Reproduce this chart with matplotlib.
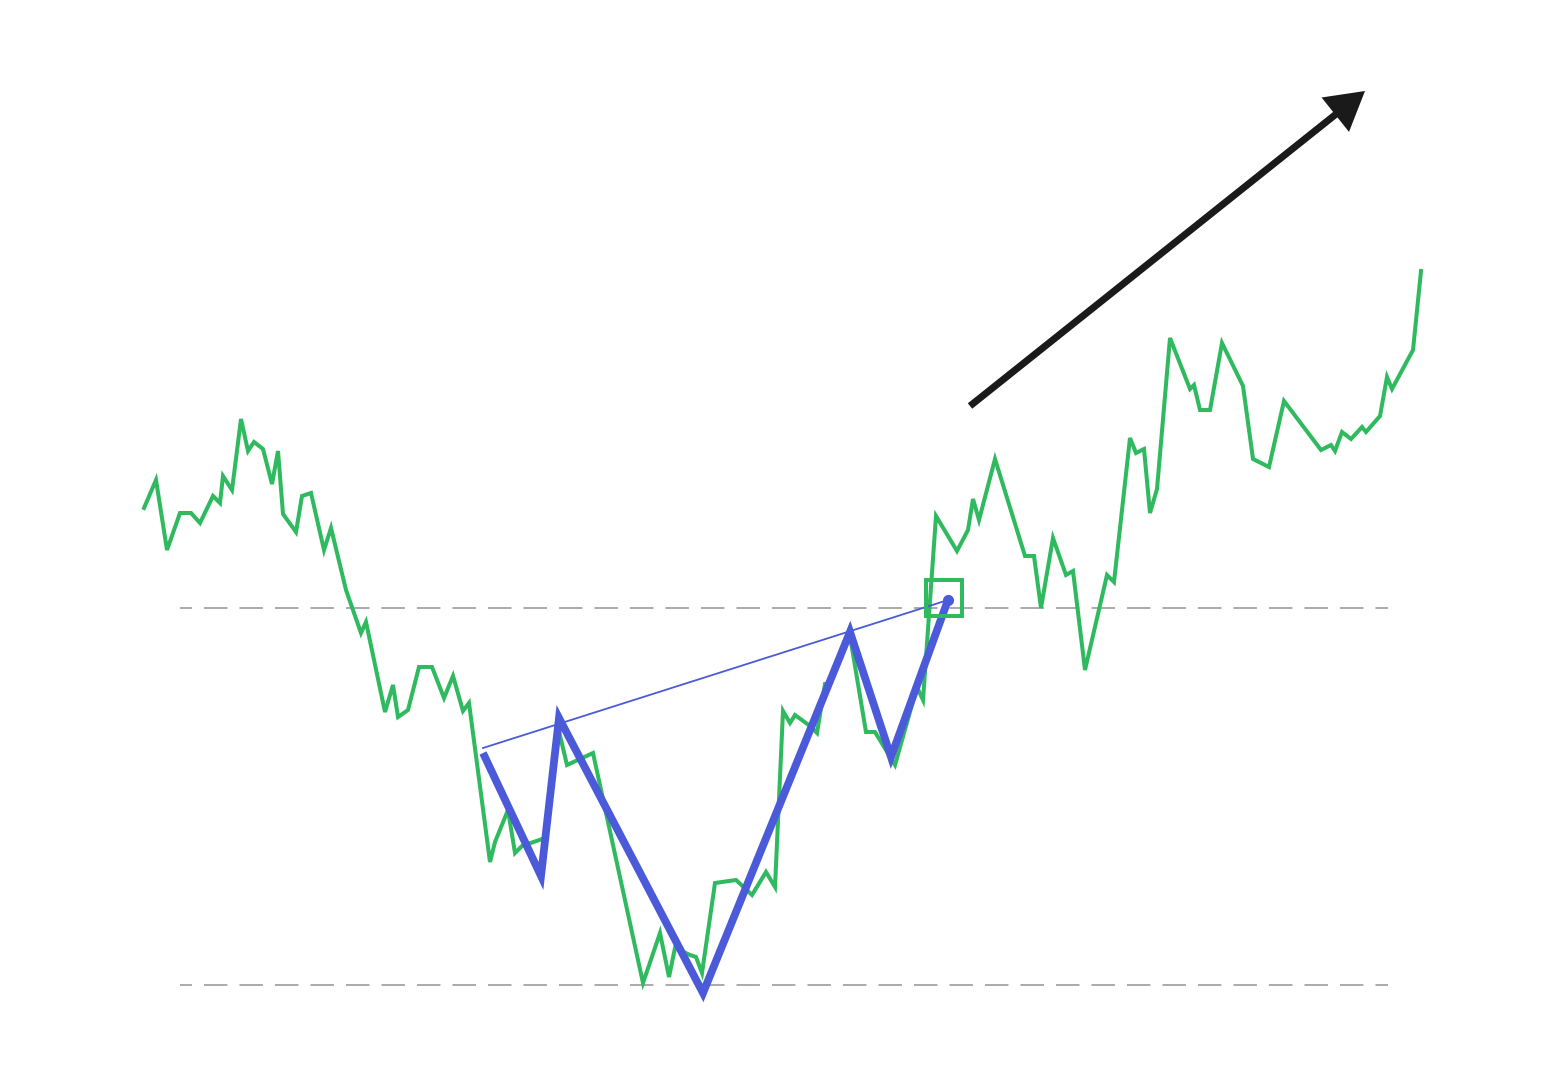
import matplotlib
matplotlib.use("Agg")
import matplotlib.pyplot as plt
from matplotlib.patches import FancyArrow, Rectangle

plt.rcParams["lines.scale_dashes"] = False

H = 1080
# price series (x position, level)
price_x = [144,156,167,180,191,200,213,220,223,232,241,248,254,263,272,278,283,296,302,311,
           324,331,346,361,366,385,393,398,408,419,432,444,453,463,469,490,495,508,515,522,545,
           557,567,593,643,660,669,675,690,696,702,715,736,752,766,775,783,790,795,810,817,
           825,828,849,866,875,895,917,923,936,957,968,973,979,995,1025,1034,1041,1053,1066,1073,
           1085,1107,1114,1130,1136,1144,1150,1157,1170,1190,1194,1200,1210,1222,1243,1253,1269,1284,1321,1331,
           1335,1342,1351,1362,1366,1380,1387,1392,1413,1421]
price_y = [508,480,550,513,513,523,496,503,476,490,419,451,442,449,484,451,514,532,496,493,
           550,528,590,633,622,712,685,717,710,667,667,698,676,711,703,862,842,810,853,846,838,
           723,765,753,983,933,977,948,955,957,973,883,880,895,872,887,711,723,715,726,733,
           684,684,630,732,732,765,687,700,516,551,530,499,520,459,556,556,608,538,575,571,
           670,575,582,438,453,449,513,489,338,389,385,410,410,343,386,459,467,401,450,445,
           451,432,439,427,432,416,377,389,350,271]
price = [H - v for v in price_y]

# inverse head & shoulders pattern
pat_x = [483, 541, 559, 703, 850, 891, 948]
pat_y = [753, 876, 718, 993, 632, 757, 600]
pat = [H - v for v in pat_y]

neck_x = [483, 948]
neck = [H - 748, H - 600]

support_level = H - 985
resist_level = H - 608
level_x = [180, 1388]

breakout_x, breakout = 944, H - 598
arrow_start = (970, H - 406)
arrow_end = (1365, H - 91)

GREEN = "#2fba5f"
BLUE = "#4b5ad8"
GRAY = "#aaaaaa"

fig = plt.figure(figsize=(15.68, 10.80), dpi=100)
ax = fig.add_axes([0, 0, 1, 1])
ax.set_xlim(0, 1568)
ax.set_ylim(0, H)
ax.axis("off")

for lvl in (resist_level, support_level):
    ax.plot(level_x, [lvl, lvl], color=GRAY, lw=1.4, zorder=1,
            linestyle=(8.3, (16.9, 8.66)))

ax.plot(price_x, price, color=GREEN, lw=2.9, solid_joinstyle="miter", zorder=2)

ax.plot(neck_x, neck, color=BLUE, lw=1.3, zorder=3)
ax.plot(pat_x, pat, color=BLUE, lw=5.6, solid_joinstyle="miter",
        solid_capstyle="butt", zorder=4)
ax.plot([pat_x[-1]], [pat[-1]], "o", color=BLUE, ms=7, zorder=4)

ax.add_patch(Rectangle((breakout_x - 18, breakout - 18), 36, 36, fill=False,
                       edgecolor=GREEN, lw=2.9, zorder=5))

dx = arrow_end[0] - arrow_start[0]
dy = arrow_end[1] - arrow_start[1]
ax.add_patch(FancyArrow(arrow_start[0], arrow_start[1], dx, dy, width=7,
                        head_width=44, head_length=38, length_includes_head=True,
                        color="#1a1a1a", lw=0, zorder=6))

fig.savefig("out.png", dpi=100, facecolor="white")
